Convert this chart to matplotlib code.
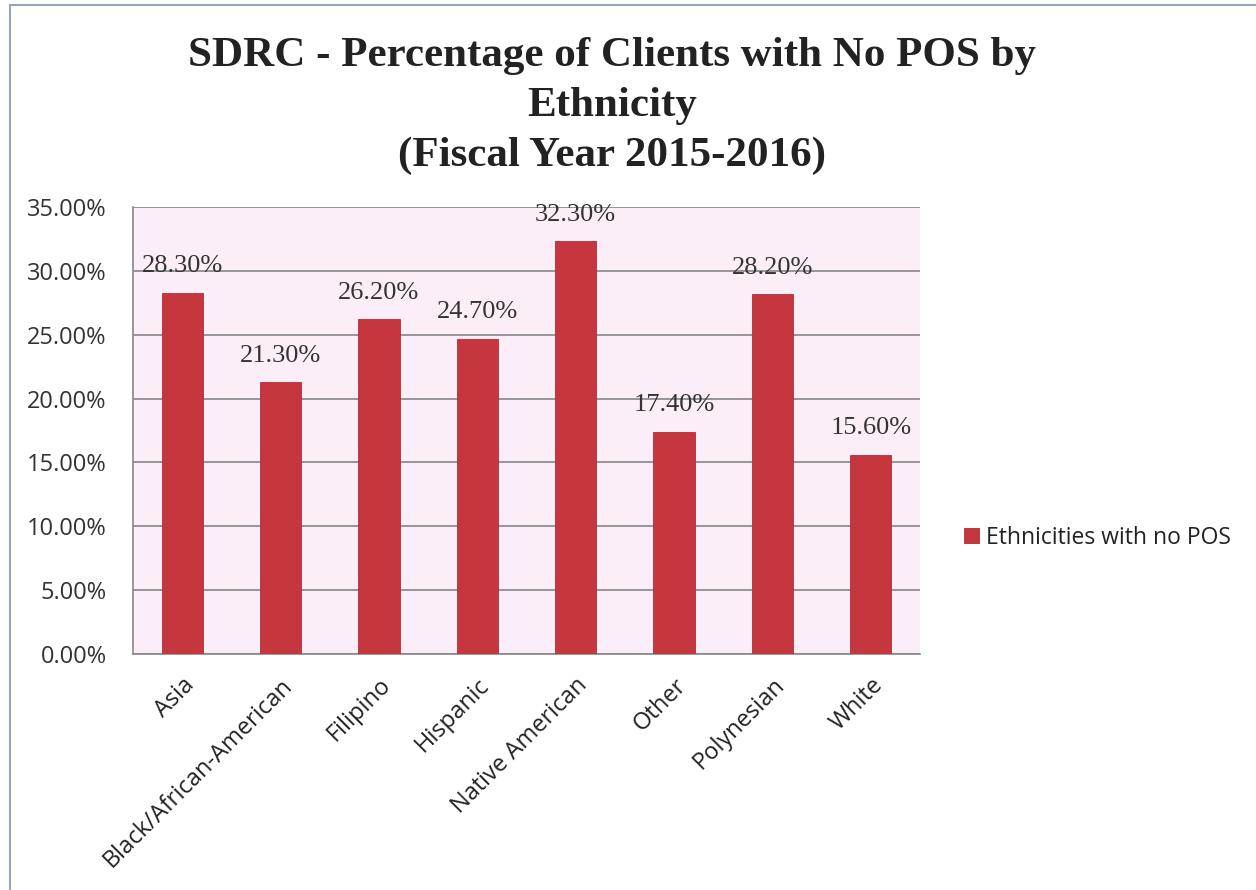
import matplotlib.pyplot as plt
from matplotlib.patches import Rectangle
from matplotlib.ticker import FuncFormatter, MultipleLocator

# Ethnicity categories and share of clients with no POS (percent)
ethnicities = ["Asia", "Black/African-American", "Filipino", "Hispanic",
               "Native American", "Other", "Polynesian", "White"]
no_pos_pct = [28.3, 21.3, 26.2, 24.7, 32.3, 17.4, 28.2, 15.6]
series_name = "Ethnicities with no POS"

bar_color = "#C5363E"
plot_bg = "#FCEEF9"

fig = plt.figure(figsize=(12.56, 8.9), dpi=100)
ax = fig.add_axes([0.1059, 0.2652, 0.6266, 0.5022])
ax.set_facecolor(plot_bg)

x = range(len(ethnicities))
bars = ax.bar(x, no_pos_pct, width=0.42, color=bar_color, edgecolor="#B02E36",
              linewidth=0.6, label=series_name, zorder=3)

# value labels above each bar
for xi, v in zip(x, no_pos_pct):
    ax.annotate(f"{v:.2f}%", (xi, v), xytext=(0, 11), textcoords="offset points",
                ha="center", va="bottom", fontsize=19,
                family="Liberation Serif", color="#333333", zorder=4)

ax.set_xlim(-0.5, len(ethnicities) - 0.5)
ax.set_ylim(0, 35)
ax.yaxis.set_major_locator(MultipleLocator(5))
ax.yaxis.set_major_formatter(FuncFormatter(lambda v, p: f"{v:.2f}%"))
ax.grid(axis="y", color="#858585", linewidth=1.2, zorder=0)

ax.set_xticks(list(x))
ax.set_xticklabels(ethnicities, rotation=45, ha="right", rotation_mode="anchor",
                   fontsize=17, family="Open Sans", color="#222222")
for lbl in ax.get_yticklabels():
    lbl.set_family("Open Sans")
    lbl.set_fontsize(17)
    lbl.set_color("#333333")
ax.tick_params(axis="y", length=0, pad=19)
ax.tick_params(axis="x", length=0, pad=14)

for side in ["top", "right"]:
    ax.spines[side].set_visible(False)
for side in ["left", "bottom"]:
    ax.spines[side].set_color("#888888")
    ax.spines[side].set_linewidth(1.2)

leg = ax.legend(loc="center left", bbox_to_anchor=(1.03, 0.26), frameon=False,
                handlelength=0.65, handleheight=0.65, handletextpad=0.3,
                prop={"family": "Open Sans", "size": 16.5})
for t in leg.get_texts():
    t.set_color("#222222")

fig.text(0.487, 0.881,
         "SDRC - Percentage of Clients with No POS by\nEthnicity\n(Fiscal Year 2015-2016)",
         ha="center", va="center", fontsize=31, fontweight="bold",
         family="Liberation Serif", color="#222222", linespacing=1.4)

# outer chart frame
fig.add_artist(Rectangle((0.008, -0.01), 1.0, 1.004, transform=fig.transFigure,
                         fill=False, edgecolor="#9AA4B8", linewidth=1.5))

fig.savefig("out.png", dpi=100)
